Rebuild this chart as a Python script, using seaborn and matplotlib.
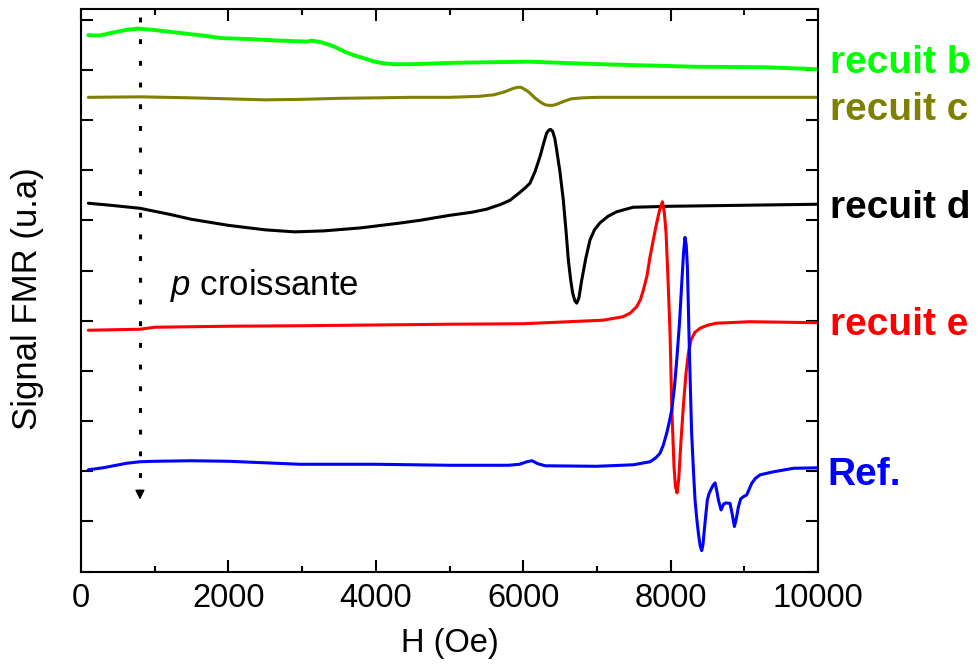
import numpy as np
import pandas as pd
import matplotlib
matplotlib.use("Agg")
import matplotlib.pyplot as plt
import seaborn as sns

# Valeurs (H en Oe, signal en unités arbitraires décalées)
h_b = [100, 250, 400, 600, 770, 1000, 1300, 1600, 1910, 2300, 2700, 3064, 3130, 3250,
       3385, 3480, 3576, 3700, 3834, 3960, 4090, 4250, 4474, 5116, 6080, 7043, 8320, 9282, 10000]
s_b = [10.69, 10.68, 10.73, 10.79, 10.82, 10.79, 10.74, 10.69, 10.63, 10.61, 10.58, 10.56,
       10.58, 10.55, 10.49, 10.43, 10.36, 10.29, 10.23, 10.17, 10.13, 10.11, 10.11, 10.14,
       10.16, 10.11, 10.06, 10.05, 10.01]

h_c = [100, 800, 1500, 2000, 2500, 3000, 3500, 4000, 4500, 5000, 5400, 5600, 5750, 5850,
       5920, 5970, 6030, 6080, 6150, 6200, 6250, 6300, 6350, 6400, 6450, 6550, 6650, 6800,
       7000, 8000, 9000, 10000]
s_c = [9.45, 9.46, 9.44, 9.42, 9.40, 9.41, 9.43, 9.44, 9.45, 9.45, 9.47, 9.50, 9.56, 9.62,
       9.65, 9.65, 9.60, 9.55, 9.45, 9.39, 9.34, 9.30, 9.29, 9.29, 9.31, 9.37, 9.42, 9.44,
       9.45, 9.45, 9.45, 9.45]

h_d = [100, 400, 800, 1200, 1500, 2000, 2500, 2900, 3300, 3800, 4300, 4600, 4800, 5005,
       5300, 5500, 5700, 5821, 5950, 6030, 6092, 6160, 6228, 6280, 6318, 6350, 6373, 6400,
       6430, 6454, 6500, 6544, 6580, 6612, 6645, 6671, 6700, 6726, 6755, 6794, 6850, 6906,
       6970, 7042, 7150, 7268, 7490, 8000, 9000, 10000]
s_d = [7.34, 7.30, 7.24, 7.12, 7.02, 6.90, 6.81, 6.77, 6.79, 6.85, 6.94, 7.00, 7.05, 7.10,
       7.16, 7.22, 7.32, 7.40, 7.55, 7.65, 7.74, 7.97, 8.27, 8.55, 8.74, 8.80, 8.81, 8.77,
       8.62, 8.40, 7.95, 7.40, 6.80, 6.21, 5.80, 5.55, 5.40, 5.35, 5.45, 5.81, 6.25, 6.61,
       6.82, 6.95, 7.08, 7.17, 7.26, 7.28, 7.30, 7.32]

h_e = [100, 800, 1000, 2000, 3000, 5000, 6000, 7083, 7354, 7450, 7540, 7590, 7630, 7680,
       7720, 7770, 7811, 7850, 7888, 7915, 7938, 7965, 7992, 8015, 8046, 8065, 8087, 8110,
       8141, 8175, 8209, 8240, 8277, 8330, 8399, 8500, 8616, 9077, 10000]
s_e = [4.81, 4.83, 4.87, 4.89, 4.90, 4.93, 4.94, 5.01, 5.08, 5.15, 5.28, 5.42, 5.61, 5.90,
       6.27, 6.65, 6.95, 7.20, 7.37, 7.15, 6.75, 5.80, 4.75, 3.29, 2.09, 1.70, 1.57, 1.85,
       2.62, 3.35, 3.96, 4.35, 4.62, 4.77, 4.85, 4.91, 4.95, 4.98, 4.96]

h_ref = [100, 300, 620, 800, 1000, 1500, 2000, 2970, 4000, 5000, 5800, 5950, 6050, 6120,
         6200, 6300, 7000, 7494, 7720, 7800, 7856, 7900, 7947, 7980, 8015, 8050, 8083, 8120,
         8151, 8175, 8195, 8212, 8227, 8240, 8254, 8270, 8285, 8310, 8331, 8355, 8377, 8400,
         8422, 8440, 8453, 8475, 8498, 8520, 8544, 8575, 8603, 8625, 8648, 8684, 8720, 8752,
         8806, 8835, 8865, 8890, 8919, 8950, 8983, 9032, 9065, 9100, 9150, 9213, 9394, 9665,
         10000]
s_ref = [2.03, 2.07, 2.16, 2.19, 2.20, 2.21, 2.20, 2.14, 2.14, 2.12, 2.12, 2.14, 2.19, 2.21,
         2.15, 2.11, 2.10, 2.13, 2.19, 2.27, 2.36, 2.52, 2.76, 2.97, 3.22, 3.65, 4.22, 4.95,
         5.75, 6.35, 6.66, 6.50, 6.08, 5.30, 4.42, 3.55, 2.76, 2.00, 1.43, 1.05, 0.76, 0.52,
         0.42, 0.55, 0.77, 1.10, 1.43, 1.55, 1.63, 1.72, 1.77, 1.62, 1.43, 1.23, 1.35, 1.37,
         1.36, 1.15, 0.90, 1.05, 1.29, 1.45, 1.49, 1.53, 1.64, 1.76, 1.86, 1.93, 1.99, 2.06,
         2.07]

noms = ["recuit b", "recuit c", "recuit d", "recuit e", "Ref."]
couleurs = ["#00ff00", "#808000", "#000000", "#ff0000", "#0000ff"]
lignes_base = [9.93, 8.99, 7.05, 4.72, 1.72]

sns.set_theme(style="ticks")
plt.rcParams["font.family"] = ["Liberation Sans", "DejaVu Sans"]
plt.rcParams["mathtext.fontset"] = "custom"
plt.rcParams["mathtext.it"] = "Liberation Sans:italic"
plt.rcParams["mathtext.rm"] = "Liberation Sans"
for k in ["text.color", "axes.labelcolor", "xtick.color", "ytick.color", "axes.edgecolor"]:
    plt.rcParams[k] = "black"

fig = plt.figure(figsize=(9.79, 6.66), dpi=100)
ax = fig.add_axes([0.0827, 0.1416, 0.7529, 0.8449])

series = [(h_b, s_b), (h_c, s_c), (h_d, s_d), (h_e, s_e), (h_ref, s_ref)]
for (h, s), nom, c in zip(series, noms, couleurs):
    df = pd.DataFrame({"H": h, "S": s})
    lw = 2.8 if nom == "recuit b" else 2.2
    sns.lineplot(data=df, x="H", y="S", ax=ax, color=c, lw=lw,
                 sort=False, estimator=None)

# flèche pointillée
ax.plot([800, 800], [11.05, 1.65], color="black", lw=2.2, ls=(0, (1.6, 5.5)))
ax.annotate("", xy=(800, 1.38), xytext=(800, 1.68),
            arrowprops=dict(arrowstyle="-|>", color="black", lw=1, mutation_scale=14))
ax.text(1208, 5.51, "$p$ croissante", fontsize=25, ha="left", va="baseline")

# étiquettes à droite
for nom, c, yb in zip(noms, couleurs, lignes_base):
    x0 = 10130 if nom == "Ref." else 10160
    ax.text(x0, yb, nom, color=c, fontsize=28, fontweight="bold",
            ha="left", va="baseline", clip_on=False)

ax.set_xlim(0, 10000)
ax.set_ylim(0, 11.21)
ax.set_xticks(np.arange(0, 10001, 2000))
ax.set_xticks(np.arange(1000, 10000, 2000), minor=True)
ax.set_yticks(np.arange(0, 12, 1))
ax.set_yticklabels([])
ax.tick_params(which="both", direction="in", top=True, right=True, width=1.5)
ax.tick_params(which="major", length=8.5, labelsize=23.5, pad=8)
ax.tick_params(which="minor", length=4.3)
for sp in ax.spines.values():
    sp.set_linewidth(1.5)

ax.set_xlabel("H (Oe)", fontsize=23.5)
ax.set_ylabel("Signal FMR (u.a)", fontsize=25)
ax.xaxis.set_label_coords(0.5, -0.100)
ax.yaxis.set_label_coords(-0.05, 0.486)

fig.savefig("out.png", dpi=100)
